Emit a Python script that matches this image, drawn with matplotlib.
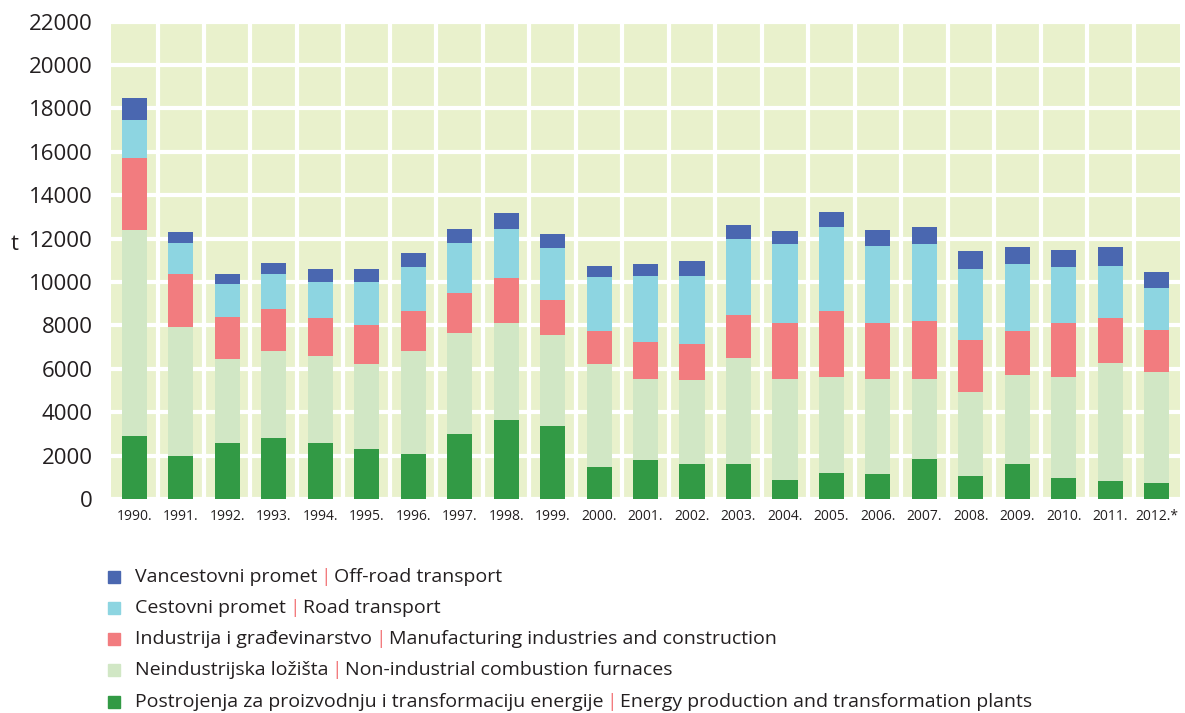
import matplotlib
matplotlib.use("Agg")
import matplotlib.pyplot as plt
import numpy as np

years = ["1990.", "1991.", "1992.", "1993.", "1994.", "1995.", "1996.", "1997.",
         "1998.", "1999.", "2000.", "2001.", "2002.", "2003.", "2004.", "2005.",
         "2006.", "2007.", "2008.", "2009.", "2010.", "2011.", "2012.*"]

# t (bottom to top of each stack)
energy = [2900, 1980, 2570, 2800, 2570, 2320, 2080, 2980, 3640, 3380, 1460, 1800,
          1630, 1630, 890, 1210, 1140, 1830, 1060, 1630, 980, 810, 720]
non_industrial = [9480, 5970, 3870, 4030, 4030, 3890, 4750, 4660, 4490, 4180, 4750, 3750,
                  3840, 4890, 4660, 4430, 4410, 3720, 3860, 4090, 4660, 5480, 5150]
manufacturing = [3330, 2400, 1970, 1920, 1740, 1820, 1860, 1850, 2060, 1620, 1550, 1690,
                 1690, 1980, 2550, 3030, 2550, 2640, 2400, 2040, 2460, 2060, 1910]
road = [1740, 1470, 1490, 1630, 1660, 1970, 2000, 2300, 2250, 2410, 2460, 3030,
        3110, 3480, 3650, 3860, 3570, 3560, 3290, 3080, 2590, 2410, 1970]
off_road = [1030, 480, 480, 490, 620, 620, 640, 660, 740, 630, 540, 580,
            680, 660, 610, 720, 710, 780, 810, 770, 810, 850, 720]

series = [
    (energy, "#329A45", "Postrojenja za proizvodnju i transformaciju energije",
     "Energy production and transformation plants"),
    (non_industrial, "#D1E7C5", "Neindustrijska ložišta", "Non-industrial combustion furnaces"),
    (manufacturing, "#F27C7F", "Industrija i građevinarstvo", "Manufacturing industries and construction"),
    (road, "#8DD5E1", "Cestovni promet", "Road transport"),
    (off_road, "#4A67B0", "Vancestovni promet", "Off-road transport"),
]

plt.rcParams["font.family"] = ["Open Sans", "DejaVu Sans"]
text_color = "#231F20"

fig = plt.figure(figsize=(11.85, 7.13), dpi=100)
ax = fig.add_axes([0.0937, 0.2973, 0.9021, 0.6747])
ax.set_facecolor("#E9F1CC")

x = np.arange(len(years))
bottom = np.zeros(len(years))
for vals, color, hr, en in series:
    ax.bar(x, vals, bottom=bottom, width=0.54, color=color, zorder=3)
    bottom += np.array(vals)

ax.set_xlim(-0.5, len(years) - 0.5)
ax.set_ylim(-90, 22080)
ax.set_yticks(np.arange(0, 22001, 2000))
ax.set_xticks(x)
ax.set_xticklabels(years)
ax.set_xticks(x[:-1] + 0.5, minor=True)

ax.grid(True, axis="y", which="major", color="white", linewidth=3, zorder=1)
ax.grid(True, axis="x", which="minor", color="white", linewidth=3, zorder=1)
ax.tick_params(axis="y", length=0, pad=13, labelsize=16, labelcolor=text_color)
ax.tick_params(axis="x", which="both", length=0, pad=6, labelsize=10, labelcolor=text_color)
for s in ax.spines.values():
    s.set_visible(False)

fig.text(15 / 1185, 1 - 245 / 713, "t", fontsize=16, color=text_color,
         ha="center", va="center")

# legend, drawn by hand so the separator can be pink
fig.canvas.draw()
renderer = fig.canvas.get_renderer()
rows_y = [577, 608, 639, 670, 702]
for (vals, color, hr, en), yy in zip(series[::-1], rows_y):
    yf = 1 - yy / 713
    fig.patches.append(plt.Rectangle((108 / 1185, yf - 6 / 713), 12 / 1185, 12 / 713,
                                     transform=fig.transFigure, color=color, figure=fig))
    t1 = fig.text(135 / 1185, yf, hr, fontsize=14, color=text_color, va="center")
    bb = t1.get_window_extent(renderer)
    t2 = fig.text((bb.x1 + 3) / 1185, yf, "|", fontsize=14, color="#F27C7F", va="center")
    bb2 = t2.get_window_extent(renderer)
    fig.text((bb2.x1 + 3) / 1185, yf, en, fontsize=14, color=text_color, va="center")

fig.savefig("out.png", dpi=100)
